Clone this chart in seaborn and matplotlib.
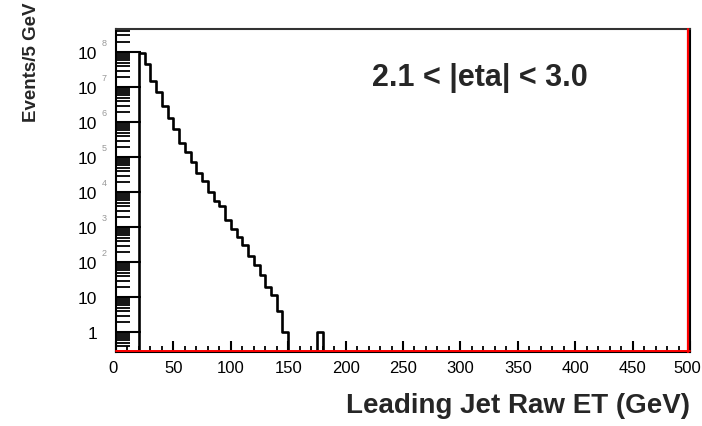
import numpy as np
import pandas as pd
import matplotlib
matplotlib.use("Agg")
import matplotlib.pyplot as plt
import seaborn as sns
from matplotlib.ticker import FixedLocator, LogLocator, NullFormatter, FixedFormatter
import matplotlib.transforms as mtrans

sns.set_theme(style="white")
plt.rcParams['font.family'] = ['Liberation Sans', 'DejaVu Sans']

# Data: bin low edges (GeV) and counts per 5 GeV bin
bin_low = [20, 25, 30, 35, 40, 45, 50, 55, 60, 65, 70, 75, 80, 85, 90, 95,
           100, 105, 110, 115, 120, 125, 130, 135, 140, 145, 175]
counts = [9.8e7, 4.6e7, 1.5e7, 7.1e6, 3.0e6, 1.3e6, 6.3e5, 2.6e5, 1.4e5, 7.4e4,
          3.6e4, 2.1e4, 1.0e4, 5.6e3, 4.1e3, 1.6e3, 870, 540, 310, 150, 81, 43,
          20, 12, 4, 1, 1]
bin_width = 5
x_ticks = [0, 50, 100, 150, 200, 250, 300, 350, 400, 450, 500]
y_ticks = [1, 10, 1e2, 1e3, 1e4, 1e5, 1e6, 1e7, 1e8]
y_base_labels = ["1", "10", "10", "10", "10", "10", "10", "10", "10"]
y_exp_labels = ["", "", "2", "3", "4", "5", "6", "7", "8"]

df = pd.DataFrame({"et": [b + bin_width / 2 for b in bin_low], "w": counts})

fig = plt.figure(figsize=(7.02, 4.27), dpi=100)
ax = fig.add_axes([116 / 702, 1 - 353 / 427, (690 - 116) / 702, (353 - 30) / 427])
ax.set_yscale("log")
# include empty bins on both sides so the outer edges drop to the baseline
edges = [float(v) for v in range(15, 190, bin_width)]
sns.histplot(data=df, x="et", weights="w", bins=edges, element="step", fill=False,
             color="black", linewidth=1.9, ax=ax)

ax.set_xlim(0, 500)
ax.set_ylim(0.274, 4.6e8)
ax.set_xlabel("")
ax.set_ylabel("")

# spines
for s in ax.spines.values():
    s.set_color("black")
    s.set_linewidth(1.5)
    s.set_visible(True)
ax.spines["top"].set_color("#333333")
ax.plot([0, 1], [0.004, 0.004], transform=ax.transAxes, color="red", lw=1.4, clip_on=False, zorder=5)
ax.plot([0.997, 0.997], [0, 1], transform=ax.transAxes, color="red", lw=1.6, clip_on=False, zorder=5)

# x ticks
ax.xaxis.set_major_locator(FixedLocator(x_ticks))
ax.xaxis.set_minor_locator(FixedLocator(np.arange(0, 501, 10)))
ax.set_xticklabels([str(v) for v in x_ticks])
ax.tick_params(axis="x", which="major", direction="in", length=8, width=1.5, color="black",
               bottom=True, top=False, labelsize=12, pad=6, labelcolor="black")
ax.tick_params(axis="x", which="minor", direction="in", length=4, width=1.3, color="black",
               bottom=True, top=False)
xl = ax.get_xticklabels()
xl[0].set_transform(xl[0].get_transform() + mtrans.ScaledTranslation(-3 / 100, 0, fig.dpi_scale_trans))
xl[-1].set_transform(xl[-1].get_transform() + mtrans.ScaledTranslation(-3 / 100, 0, fig.dpi_scale_trans))

# y ticks
ax.yaxis.set_major_locator(FixedLocator(y_ticks))
ax.yaxis.set_minor_locator(LogLocator(base=10, subs=np.arange(2, 10), numticks=50))
ax.yaxis.set_minor_formatter(NullFormatter())
ax.yaxis.set_major_formatter(FixedFormatter(y_base_labels))
ax.tick_params(axis="y", which="major", direction="in", length=18, width=1.5, color="black",
               left=True, right=False, labelsize=12.5, pad=13.5, labelcolor="black")
ax.tick_params(axis="y", which="minor", direction="in", length=10, width=1.3, color="black",
               left=True, right=False)

# exponents (grey superscripts)
tr = mtrans.blended_transform_factory(ax.transAxes, ax.transData)
off = mtrans.offset_copy(tr, fig=fig, x=-14, y=10, units="dots")
for yv, e in zip(y_ticks, y_exp_labels):
    if e:
        ax.text(0, yv, e, transform=off, fontsize=6.5, color="#999999", ha="left", va="center")

# titles
fig.text(690 / 702, 1 - 406 / 427, "Leading Jet Raw ET (GeV)", ha="right", va="center",
         fontsize=20, fontweight="bold")
fig.text(32 / 702, 1 - 62 / 427, "Events/5 GeV", rotation=90, ha="center", va="center",
         fontsize=13.5, fontweight="bold")
fig.text(480 / 702, 1 - 78 / 427, "2.1 < |eta| < 3.0", ha="center", va="center",
         fontsize=22, fontweight="bold")

fig.savefig("out.png", dpi=100, facecolor="white")
